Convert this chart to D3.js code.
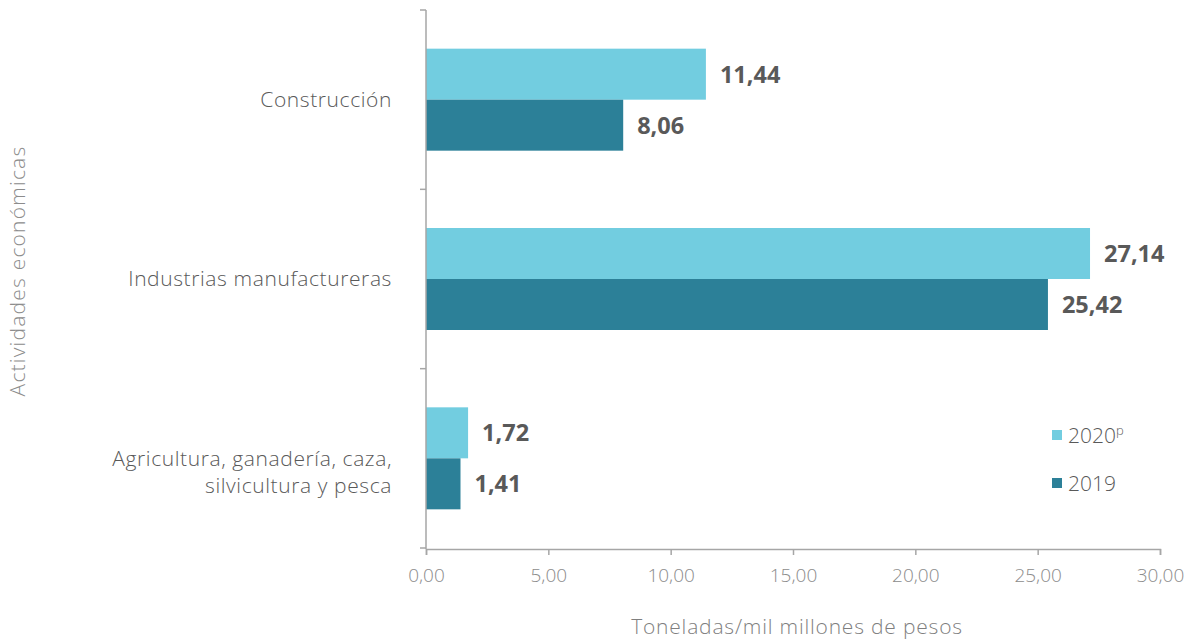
<!DOCTYPE html>
<html><head><meta charset="utf-8">
<script src="https://cdn.jsdelivr.net/npm/d3@7"></script>
<style>body{margin:0;background:#fff}svg{display:block}text{font-family:"Open Sans",sans-serif}</style>
</head><body><svg id="c" width="1193" height="639"></svg>
<script>
const categories = ["Construcción", "Industrias manufactureras", "Agricultura, ganadería, caza,|silvicultura y pesca"];
const values2020 = [11.44, 27.14, 1.72];
const values2019 = [8.06, 25.42, 1.41];
const seriesNames = ["2020", "2019"];
const xTicks = [0, 5, 10, 15, 20, 25, 30];
const colors = ["#72cde0", "#2c8098"];

const svg = d3.select("#c");
const fmt = v => d3.format(".2f")(v).replace(".", ",");
const x = d3.scaleLinear().domain([0, 30]).range([426, 1160]);
const y = d3.scaleBand().domain(categories).range([10, 548]);
const sub = d3.scaleBand().domain(seriesNames).range([y.bandwidth()/2 - 51, y.bandwidth()/2 + 51]);

// bars
const data = categories.map((c, i) => ({c, vals: [values2020[i], values2019[i]]}));
const g = svg.append("g");
data.forEach(d => {
  d.vals.forEach((v, j) => {
    const y0 = y(d.c) + sub(seriesNames[j]);
    g.append("rect").attr("x", x(0)).attr("y", y0).attr("width", x(v) - x(0)).attr("height", sub.bandwidth()).attr("fill", colors[j]);
    g.append("text").attr("x", x(v) + 14).attr("y", y0 + sub.bandwidth()/2).attr("dy", "0.36em")
      .attr("font-size", 23.5).attr("font-weight", 700).attr("fill", "#595959").text(fmt(v));
  });
});

// y axis
const yAxis = svg.append("g");
yAxis.append("line").attr("x1", 426).attr("x2", 426).attr("y1", 10).attr("y2", 549).attr("stroke", "#a6a6a6").attr("stroke-width", 1.5);
const yTickPos = categories.map(c => y(c)).concat([y.range()[1]]);
yTickPos.forEach(p => yAxis.append("line").attr("x1", 420).attr("x2", 426).attr("y1", p).attr("y2", p).attr("stroke", "#a6a6a6").attr("stroke-width", 1.5));
categories.forEach(c => {
  const lines = c.split("|");
  const t = yAxis.append("text").attr("text-anchor", "end").attr("font-size", 21).attr("font-weight", 300).attr("fill", "#595959").attr("letter-spacing", 0.6);
  const cy = y(c) + y.bandwidth()/2;
  lines.forEach((l, k) => t.append("tspan").attr("x", 392).attr("y", cy + k * 27).attr("dy", "0.35em").text(l));
});

// x axis
const xAxis = svg.append("g").attr("transform", "translate(0,549)")
  .call(d3.axisBottom(x).tickValues(xTicks).tickFormat(fmt).tickSize(6).tickPadding(14));
xAxis.select(".domain").attr("stroke", "#a6a6a6").attr("stroke-width", 1.5);
xAxis.selectAll(".tick line").attr("stroke", "#a6a6a6").attr("stroke-width", 1.5);
xAxis.selectAll(".tick text").attr("font-size", 19).attr("font-weight", 300).attr("fill", "#8c8c8c").attr("font-family", "'Open Sans',sans-serif");

// titles
svg.append("text").attr("x", 797).attr("y", 634).attr("text-anchor", "middle").attr("font-size", 21).attr("font-weight", 300).attr("fill", "#7f7f7f").attr("letter-spacing", 0.8).text("Toneladas/mil millones de pesos");
svg.append("text").attr("transform", "translate(25,271) rotate(-90)").attr("text-anchor", "middle").attr("font-size", 21).attr("font-weight", 300).attr("fill", "#8c8c8c").attr("letter-spacing", 1.2).text("Actividades económicas");

// legend
const leg = svg.append("g");
seriesNames.forEach((s, j) => {
  const ly = 435 + j * 48;
  leg.append("rect").attr("x", 1052).attr("y", ly - 5).attr("width", 10).attr("height", 10).attr("fill", colors[j]);
  const t = leg.append("text").attr("x", 1068).attr("y", ly).attr("dy", "0.36em").attr("font-size", 21).attr("font-weight", 300).attr("fill", "#595959").text(s);
  if (j === 0) t.append("tspan").attr("font-size", 13).attr("dy", "-0.6em").text("p");
});
</script></body></html>
